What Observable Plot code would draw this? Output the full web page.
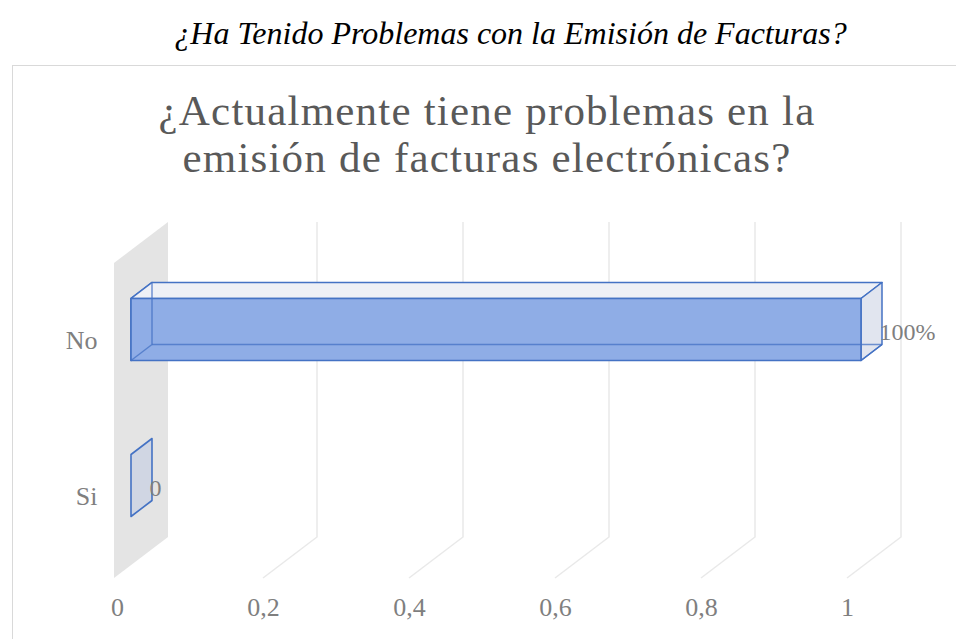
<!DOCTYPE html>
<html><head><meta charset="utf-8">
<script src="https://cdn.jsdelivr.net/npm/d3@7"></script>
<script src="https://cdn.jsdelivr.net/npm/@observablehq/plot@0.6"></script>
<style>
body{margin:0;width:956px;height:639px;overflow:hidden;background:#fff;position:relative;font-family:"Liberation Serif","Times New Roman",serif;}
#outer{position:absolute;left:0;width:1021px;top:17px;text-align:center;font-style:italic;font-size:32px;line-height:32px;color:#000;white-space:nowrap;}
#box{position:absolute;left:12px;top:65px;width:1000px;height:700px;border-left:1.5px solid #d9d9d9;border-top:1.5px solid #d9d9d9;}
#ctitle{position:absolute;left:0;width:974px;top:87px;text-align:center;font-size:43px;letter-spacing:1.2px;line-height:47px;color:#595959;}
#chart{position:absolute;left:0;top:195px;}
</style></head>
<body>
<div id="outer">¿Ha Tenido Problemas con la Emisión de Facturas?</div>
<div id="box"></div>
<div id="ctitle">¿Actualmente tiene problemas en la<br>emisión de facturas electrónicas?</div>
<div id="chart"></div>
<script>
const categories = ["No", "Si"];
const values = [1, 0];
const valueLabels = ["100%", "0"];
const xTicks = [0, 0.2, 0.4, 0.6, 0.8, 1];
const xTickLabels = ["0", "0,2", "0,4", "0,6", "0,8", "1"];

const rows = categories.map((c, i) => ({cat: c, value: values[i], label: valueLabels[i]}));

// 3D styling constants (pixel offsets)
const DEPTH = {x: 54, y: -41};
const FRONT = {x: 14, y: -10.5};
const BACK = {x: 35, y: -26.5};
const BLUE = "#4472c4";

function wallsRender(index, scales, values, dims) {
  const g = d3.create("svg:g");
  const yF = dims.height - dims.marginBottom;
  const yTop = dims.marginTop;
  for (const i of index) {
    const t = xTicks[i];
    const x = scales.x(t);
    if (t === 0) {
      const x0 = x - 3;
      g.append("path")
        .attr("d", `M${x0},${yF}L${x0},${yTop - DEPTH.y}L${x0 + DEPTH.x},${yTop}L${x0 + DEPTH.x},${yF + DEPTH.y}Z`)
        .attr("fill", "#e4e4e4");
    } else {
      g.append("path")
        .attr("d", `M${x},${yF}L${x + DEPTH.x},${yF + DEPTH.y}L${x + DEPTH.x},${yTop}`)
        .attr("fill", "none").attr("stroke", "#e9e9e9").attr("stroke-width", 1.5);
    }
  }
  return g.node();
}

function boxRender(index, scales, values, dims) {
  const g = d3.create("svg:g");
  const bw = scales.y.bandwidth ? scales.y.bandwidth() : 63;
  for (const i of index) {
    const x1 = scales.x(0), x2 = scales.x(rows[i].value);
    const y1 = scales.y(rows[i].cat), y2 = y1 + bw;
    const p = (x, y, o) => [x + o.x, y + o.y];
    const FTL = p(x1, y1, FRONT), FTR = p(x2, y1, FRONT), FBR = p(x2, y2, FRONT), FBL = p(x1, y2, FRONT);
    const BTL = p(x1, y1, BACK), BTR = p(x2, y1, BACK), BBR = p(x2, y2, BACK), BBL = p(x1, y2, BACK);
    const poly = (pts, fill, stroke, sw, op) => g.append("path")
      .attr("d", "M" + pts.map(q => q.join(",")).join("L") + "Z")
      .attr("fill", fill).attr("stroke", stroke || "none")
      .attr("stroke-width", sw || 0).attr("stroke-opacity", op == null ? 1 : op)
      .attr("stroke-linejoin", "round");
    const line = (a, b, op) => g.append("path")
      .attr("d", `M${a.join(",")}L${b.join(",")}`)
      .attr("stroke", BLUE).attr("stroke-width", 1.5).attr("stroke-opacity", op).attr("fill", "none");
    // left face
    poly([FTL, BTL, BBL, FBL], "#d0d6e3", BLUE, 1.6);
    if (x2 > x1) {
      poly([FTL, FTR, BTR, BTL], "#eef0f6", BLUE, 1.5);
      poly([FTR, BTR, BBR, FBR], "#e1e5ef", BLUE, 1.5);
      poly([FTL, FTR, FBR, FBL], "#8fade6", null);
      line(BTL, BBL, 0.75);
      line(BBL, BBR, 0.75);
      line(BBL, FBL, 0.75);
      line(BBR, FBR, 0.9);
      poly([FTL, FTR, FBR, FBL], "none", BLUE, 1.6);
    }
  }
  return g.node();
}

const chart = Plot.plot({
  width: 956,
  height: 444,
  marginLeft: 117,
  marginRight: 109,
  marginTop: 27,
  marginBottom: 61,
  style: {fontFamily: '"Liberation Serif","Times New Roman",serif', color: "#7f7f7f", background: "transparent", overflow: "visible"},
  x: {domain: [0, 1]},
  y: {domain: categories, range: [19, 427], padding: 0.6},
  marks: [
    Plot.ruleX(xTicks, {x: d => d, render: wallsRender}),
    Plot.barX(rows, {x: "value", y: "cat", render: boxRender}),
    Plot.text(rows, {x: "value", y: "cat", text: "label", textAnchor: "start", dx: 32, dy: -8, fontSize: 24, fill: "#7f7f7f"}),
    Plot.axisX(xTicks, {tickSize: 0, tickPadding: 19, tickFormat: (d) => xTickLabels[xTicks.indexOf(d)], fontSize: 26, fill: "#7f7f7f", label: null}),
    Plot.axisY({tickSize: 0, tickPadding: 20, fontSize: 26, fill: "#7f7f7f", label: null})
  ]
});
document.getElementById("chart").append(chart);
</script>
</body></html>
